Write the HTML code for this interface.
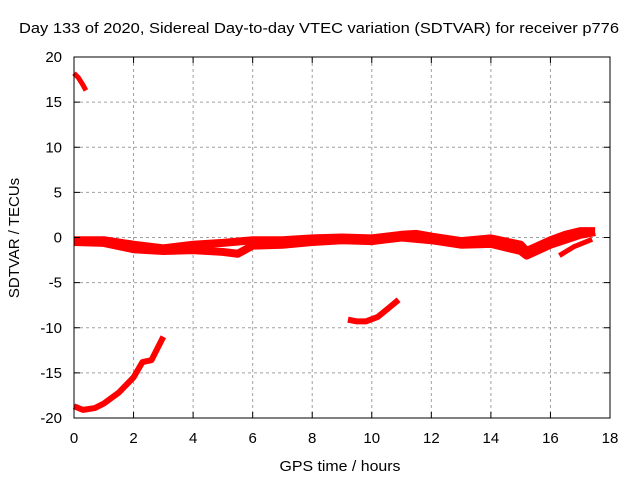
<!DOCTYPE html>
<html><head><meta charset="utf-8"><style>
body{margin:0;background:#fff;}
svg{display:block;font-family:"Liberation Sans",sans-serif;}
</style></head><body>
<svg id="chart" width="640" height="480" viewBox="0 0 640 480">
<rect width="640" height="480" fill="#fff"/>
<text x="319" y="33" font-size="15" text-anchor="middle" textLength="600" lengthAdjust="spacingAndGlyphs">Day 133 of 2020, Sidereal Day-to-day VTEC variation (SDTVAR) for receiver p776</text>
<g id="grid"></g>
<g id="series"></g>
<rect x="74" y="57" width="536" height="361" fill="none" stroke="#000" stroke-width="1"/>
<g id="ticks"></g>
<text x="340" y="471" font-size="15" text-anchor="middle" textLength="121" lengthAdjust="spacingAndGlyphs">GPS time / hours</text>
<text x="19" y="238" font-size="15" text-anchor="middle" transform="rotate(-90 19 238)">SDTVAR / TECUs</text>
</svg>
<script>
const xTicks=[0,2,4,6,8,10,12,14,16,18];
const yTicks=[20,15,10,5,0,-5,-10,-15,-20];
const segTop=[[0,18.2],[0.15,17.7],[0.3,16.9],[0.4,16.3]];
const segLow=[[0,-18.7],[0.3,-19.1],[0.7,-18.9],[1,-18.4],[1.5,-17.2],[2,-15.5],[2.3,-13.8],[2.6,-13.6],[2.8,-12.3],[3,-11]];
const segMid=[[9.2,-9.1],[9.5,-9.3],[9.8,-9.3],[10.2,-8.8],[10.5,-8],[10.9,-6.9]];
const bandUpper=[[0,-0.3],[1,-0.3],[2,-0.8],[3,-1.2],[4,-0.8],[5,-0.6],[6,-0.3],[7,-0.3],[8,-0.1],[9,0],[10,-0.1],[11,0.3],[11.5,0.4],[12,0.1],[13,-0.4],[14,-0.1],[15,-0.8],[15.2,-1.5],[16,-0.3],[16.5,0.3],[17,0.7],[17.5,0.7]];
const bandLower=[[0,-0.5],[1,-0.6],[2,-1.3],[3,-1.5],[4,-1.4],[5,-1.6],[5.5,-1.8],[6,-0.9],[7,-0.8],[8,-0.5],[9,-0.3],[10,-0.4],[11,0],[12,-0.3],[13,-0.8],[14,-0.7],[15,-1.5],[15.2,-2],[16,-0.8],[17,0.3],[17.5,0.6]];
const branch=[[16.3,-2],[16.8,-1],[17.4,-0.2]];
const X=v=>74+v*(536/18), Y=v=>237.5-v*(361/40);
const NS="http://www.w3.org/2000/svg";
const grid=document.getElementById('grid'),ticks=document.getElementById('ticks'),ser=document.getElementById('series');
function mk(tag,attrs,parent){const e=document.createElementNS(NS,tag);for(const k in attrs)e.setAttribute(k,attrs[k]);parent.appendChild(e);return e;}
xTicks.forEach(t=>{
 const x=X(t);
 if(t>0&&t<18){const g=mk('line',{x1:x,x2:x,y1:57,y2:418,stroke:'#a0a0a0','stroke-dasharray':'3,3'},grid);
 
 }
 const tk=mk('path',{d:`M${x} 418v-6M${x} 57v6`,stroke:'#000'},ticks);
 
 
 const l=mk('text',{x:x,y:443,'font-size':15,'text-anchor':'middle'},ticks);l.textContent=t;
 
 
});
yTicks.forEach(t=>{
 const y=Y(t);
 if(t<20&&t>-20){const g=mk('line',{x1:74,x2:610,y1:y,y2:y,stroke:'#a0a0a0','stroke-dasharray':'3,3'},grid);
 
 }
 const tk=mk('path',{d:`M74 ${y}h6M610 ${y}h-6`,stroke:'#000'},ticks);
 
 
 const l=mk('text',{x:62,y:y+5,'font-size':15,'text-anchor':'end'},ticks);l.textContent=t;
 
 
});
function line(pts,w,name){
 const p=mk('polyline',{points:pts.map(d=>X(d[0])+','+Y(d[1])).join(' '),fill:'none',stroke:'#f00','stroke-width':w,'stroke-linejoin':'round','stroke-linecap':'butt'},ser);
 
 
}
line(segTop,5,'segment-top');
line(segLow,6,'segment-low');
line(segMid,6,'segment-mid');
line(bandUpper,8,'band-upper');
line(bandLower,8,'band-lower');
line(branch,5,'band-branch');
</script>
</body></html>
